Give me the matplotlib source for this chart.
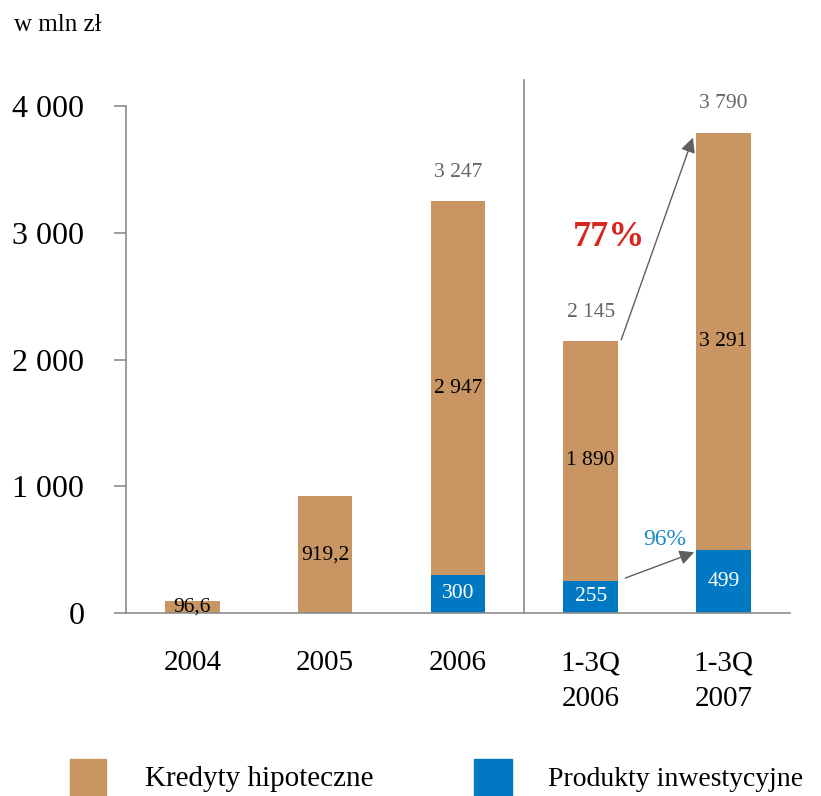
import matplotlib
matplotlib.use('Agg')
import matplotlib.pyplot as plt
from matplotlib.patches import Rectangle
import numpy as np

plt.rcParams['font.family'] = ['Liberation Serif', 'DejaVu Serif']

# data (mln zł)
categories = ['2004', '2005', '2006', '1-3Q\n2006', '1-3Q\n2007']
investment = [0, 0, 300, 255, 499]
mortgage = [96.6, 919.2, 2947, 1890, 3291]
mortgage_labels = ['96,6', '919,2', '2 947', '1 890', '3 291']
investment_labels = ['', '', '300', '255', '499']
total_labels = ['', '', '3 247', '2 145', '3 790']
growth_total = '77%'
growth_invest = '96%'
yticks = [0, 1000, 2000, 3000, 4000]
ytick_labels = ['0', '1 000', '2 000', '3 000', '4 000']

BROWN = '#C99663'
BLUE = '#0079C2'
GRAY = '#8c8c8c'

fig = plt.figure(figsize=(8.21, 7.96), dpi=100)
ax = fig.add_axes([0.1535, 0.2299, 0.8085, 0.6369])

x = np.arange(len(categories))
w = 0.41
ax.bar(x, investment, w, color=BLUE, zorder=2)
ax.bar(x, mortgage, w, bottom=investment, color=BROWN, zorder=2)

for i in range(len(x)):
    if investment_labels[i]:
        ax.text(x[i], investment[i] / 2, investment_labels[i], ha='center', va='center',
                color='white', fontsize=15.5)
    ax.text(x[i], investment[i] + mortgage[i] / 2, mortgage_labels[i], ha='center',
            va='center', color='black', fontsize=15.5)
    if total_labels[i]:
        ax.annotate(total_labels[i], (x[i], investment[i] + mortgage[i]),
                    xytext=(0, 14), textcoords='offset points', ha='center',
                    va='bottom', color='#666666', fontsize=15.5)

# growth arrows
arrow = dict(arrowstyle='-|>', color='#5f5f5f', lw=1, mutation_scale=22,
             shrinkA=0, shrinkB=0)
t0 = investment[3] + mortgage[3]
t1 = investment[4] + mortgage[4]
ax.annotate('', xy=(x[4] - 0.23, t1 - 40), xytext=(x[3] + 0.23, t0 + 10),
            arrowprops=arrow)
ax.annotate('', xy=(x[4] - 0.22, investment[4] * 0.96),
            xytext=(x[3] + 0.26, investment[3] * 1.08), arrowprops=arrow)
ax.text(3.14, 2960, growth_total, ha='center', va='center', color='#D7261E',
        fontsize=26, fontweight='bold')
ax.text(3.56, 580, growth_invest, ha='center', va='center', color='#1A8AC9',
        fontsize=17)

# separator
ax.axvline(2.5, ymin=0, ymax=4205 / 4000, color=GRAY, lw=1.2, clip_on=False)

ax.set_xlim(-0.5, 4.5)
ax.set_ylim(0, 4000)
ax.set_yticks(yticks)
ax.set_yticklabels(ytick_labels)
ax.set_xticks(x)
ax.set_xticklabels(categories, linespacing=1.5)
ax.tick_params(axis='y', length=9, width=1.2, color=GRAY, pad=21, labelsize=23)
ax.tick_params(axis='x', length=0, pad=27, labelsize=21)
for s in ['top', 'right']:
    ax.spines[s].set_visible(False)
for s in ['left', 'bottom']:
    ax.spines[s].set_color(GRAY)
    ax.spines[s].set_linewidth(1.2)

fig.text(14 / 821, 1 - 25 / 796, 'w mln zł', ha='left', va='center', fontsize=18)

# legend
fig.add_artist(Rectangle((70 / 821, 0), 36 / 821, 37 / 796, color=BROWN,
                         transform=fig.transFigure))
fig.add_artist(Rectangle((474 / 821, 0), 38 / 821, 37 / 796, color=BLUE,
                         transform=fig.transFigure))
fig.text(145 / 821, 1 - 779 / 796, 'Kredyty hipoteczne', ha='left', va='center',
         fontsize=21)
fig.text(548 / 821, 1 - 779 / 796, 'Produkty inwestycyjne', ha='left', va='center',
         fontsize=20)

fig.savefig('out.png', dpi=100)
